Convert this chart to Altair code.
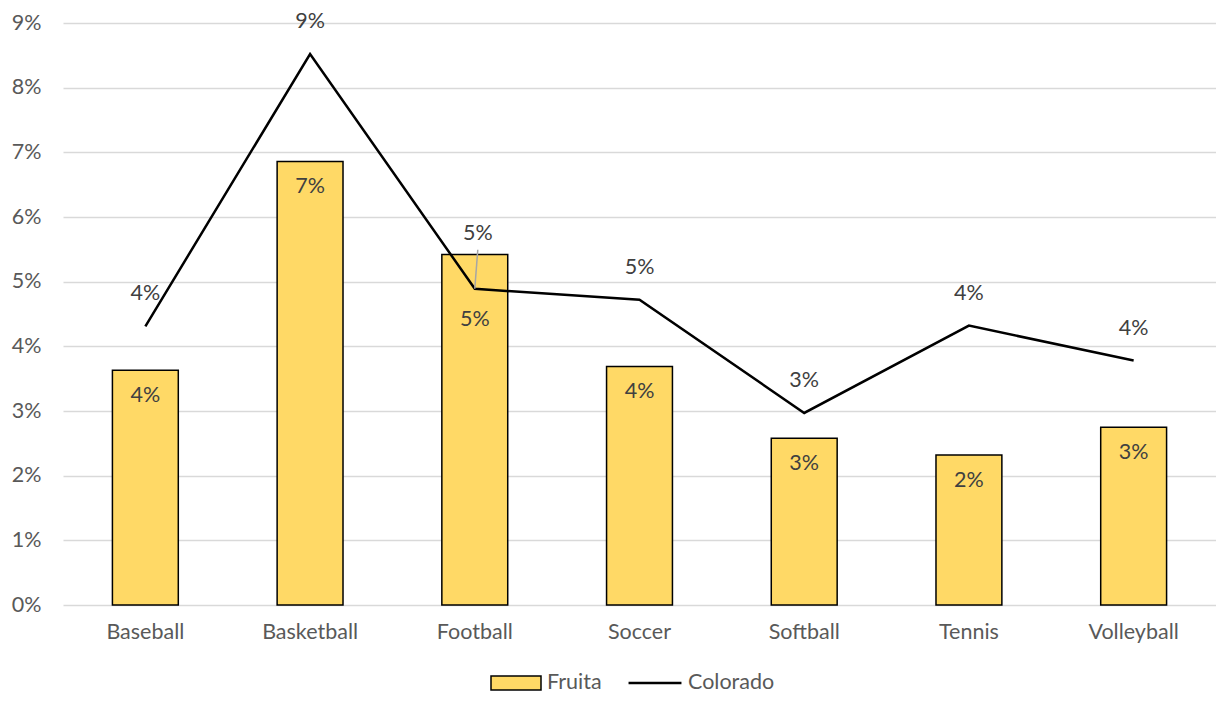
import altair as alt
import pandas as pd

sports = ["Baseball", "Basketball", "Football", "Soccer", "Softball", "Tennis", "Volleyball"]
fruita = [0.0363, 0.0686, 0.0542, 0.0369, 0.0258, 0.0232, 0.0275]
colorado = [0.0431, 0.0852, 0.0489, 0.0472, 0.0297, 0.0432, 0.0378]
y_ticks = [0, 0.01, 0.02, 0.03, 0.04, 0.05, 0.06, 0.07, 0.08, 0.09]

FONT = "Lato"
FS = 21.5
df = pd.DataFrame({"sport": sports, "Fruita": fruita, "Colorado": colorado})

x = alt.X("sport:N", sort=sports,
          scale=alt.Scale(paddingInner=0.6, paddingOuter=0.3),
          axis=alt.Axis(title=None, labelAngle=0, labelFontSize=FS, labelColor="#595959",
                        labelPadding=16, domain=False, ticks=False, grid=False, labelFont=FONT))
yscale = alt.Scale(domain=[0, 0.09], nice=False)
yaxis = alt.Axis(format=".0%", values=y_ticks, title=None, domain=False, ticks=False,
                 gridColor="#D9D9D9", gridWidth=1.5, labelPadding=22, labelFontSize=FS,
                 labelColor="#595959", labelFont=FONT)

base = alt.Chart(df)

bars = base.transform_calculate(series="'Fruita'").mark_bar(stroke="black", strokeWidth=1.5).encode(
    x=x,
    y=alt.Y("Fruita:Q", scale=yscale, axis=yaxis),
    fill=alt.Fill("series:N", scale=alt.Scale(domain=["Fruita"], range=["#FFD966"]),
                  legend=alt.Legend(title=None, orient="none", legendX=427, legendY=634,
                                    symbolType="M-1,-0.28H1V0.28H-1Z", symbolSize=2500,
                                    symbolStrokeColor="black", symbolStrokeWidth=1.5,
                                    labelFontSize=FS, labelColor="#595959", labelFont=FONT,
                                    padding=0, labelOffset=5)),
)

line = base.transform_calculate(series2="'Colorado'").mark_line(strokeWidth=2.5).encode(
    x=x,
    y=alt.Y("Colorado:Q", scale=yscale),
    stroke=alt.Stroke("series2:N", scale=alt.Scale(domain=["Colorado"], range=["black"]),
                      legend=alt.Legend(title=None, orient="none", legendX=564, legendY=632,
                                        symbolType="stroke", symbolSize=2800, symbolStrokeWidth=2.5,
                                        labelFontSize=FS, labelColor="#595959", labelFont=FONT,
                                        padding=0, labelOffset=5)),
)

text_common = dict(baseline="middle", align="center", fontSize=FS, color="#404040", font=FONT)
bar_labels = base.transform_filter(alt.datum.sport != "Football").mark_text(dy=26, **text_common).encode(
    x=x, y=alt.Y("Fruita:Q", scale=yscale), text=alt.Text("Fruita:Q", format=".0%"))
bar_labels_fb = base.transform_filter(alt.datum.sport == "Football").mark_text(dy=65, **text_common).encode(
    x=x, y=alt.Y("Fruita:Q", scale=yscale), text=alt.Text("Fruita:Q", format=".0%"))

line_labels_other = base.transform_filter(alt.datum.sport != "Football").mark_text(dy=-32, **text_common).encode(
    x=x, y=alt.Y("Colorado:Q", scale=yscale), text=alt.Text("Colorado:Q", format=".0%"))
line_labels_fb = base.transform_filter(alt.datum.sport == "Football").mark_text(dy=-55, dx=3, **text_common).encode(
    x=x, y=alt.Y("Colorado:Q", scale=yscale), text=alt.Text("Colorado:Q", format=".0%"))

# leader line for the moved Football label
leader = base.transform_filter(alt.datum.sport == "Football").mark_rule(
    color="#A6A6A6", strokeWidth=1.5, xOffset=0, x2Offset=3, yOffset=0, y2Offset=-39).encode(
    x=x, x2=alt.X2("sport"), y=alt.Y("Colorado:Q", scale=yscale), y2=alt.Y2("Colorado:Q"))

chart = alt.layer(bars, line, leader, bar_labels, bar_labels_fb, line_labels_other, line_labels_fb).resolve_legend(
    fill="independent", stroke="independent"
).properties(
    width=1153, height=582,
    autosize=alt.AutoSizeParams(type="none"),
    padding={"left": 55, "top": 15, "right": 0, "bottom": 89},
).configure_view(stroke=None)

chart.save("out.html", embed_options={"renderer": "svg", "actions": False})
